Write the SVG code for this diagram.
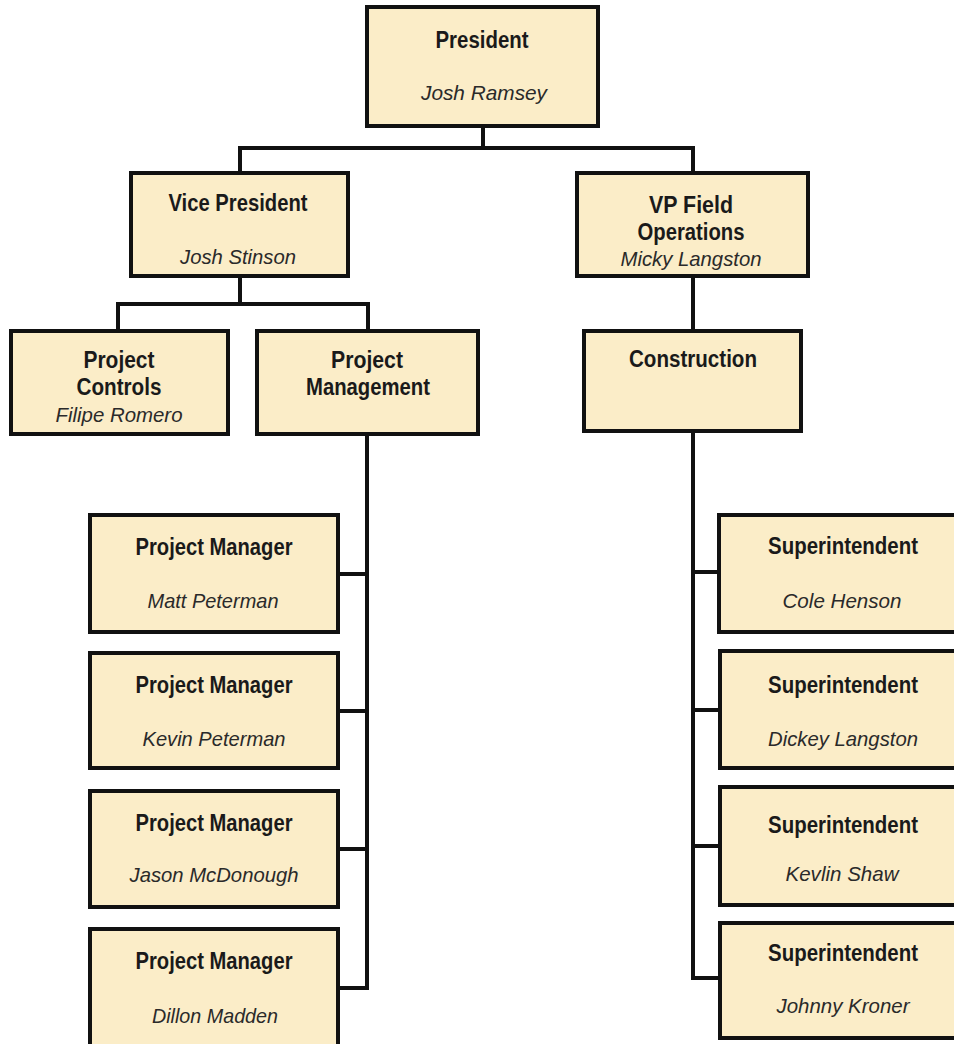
<svg xmlns="http://www.w3.org/2000/svg" width="954" height="1044" viewBox="0 0 954 1044">
<style>
.box{fill:#FBEDC8;stroke:#111;stroke-width:4}
.t{font-family:"Liberation Sans",Arial,sans-serif;font-weight:bold;font-size:23px;fill:#1a1a1a;text-anchor:middle}
.n{font-family:"Liberation Sans",Arial,sans-serif;font-style:italic;font-size:21px;fill:#2a2a2a;text-anchor:middle}
.c{fill:none;stroke:#111;stroke-width:4;stroke-linejoin:miter}
</style>
<rect width="954" height="1044" fill="#fff"/>
<g id="connectors">
<path class="c" d="M483 126V148M240 173V148H693V173"/>
<path class="c" d="M240 276V304M118 331V304H368V331"/>
<path class="c" d="M693 276V331"/>
<path class="c" d="M367 434V988H338M338 574H367M338 711H367M338 849H367"/>
<path class="c" d="M693 431V978H719M693 572H719M693 710H719M693 846H719"/>
</g>
<g id="president">
<rect class="box" x="367" y="7" width="231" height="119"/>
<text class="t" x="482" y="48" textLength="93" lengthAdjust="spacingAndGlyphs">President</text>
<text class="n" x="484" y="100" textLength="126" lengthAdjust="spacingAndGlyphs">Josh Ramsey</text>
</g>
<g id="vice-president">
<rect class="box" x="131" y="173" width="217" height="103"/>
<text class="t" x="238" y="211" textLength="139" lengthAdjust="spacingAndGlyphs">Vice President</text>
<text class="n" x="238" y="264" textLength="116" lengthAdjust="spacingAndGlyphs">Josh Stinson</text>
</g>
<g id="vp-field-operations">
<rect class="box" x="577" y="173" width="231" height="103"/>
<text class="t" x="691" y="213" textLength="84" lengthAdjust="spacingAndGlyphs">VP Field</text>
<text class="t" x="691" y="240" textLength="107" lengthAdjust="spacingAndGlyphs">Operations</text>
<text class="n" x="691" y="266" textLength="141" lengthAdjust="spacingAndGlyphs">Micky Langston</text>
</g>
<g id="project-controls">
<rect class="box" x="11" y="331" width="217" height="103"/>
<text class="t" x="119" y="368" textLength="71" lengthAdjust="spacingAndGlyphs">Project</text>
<text class="t" x="119" y="395" textLength="85" lengthAdjust="spacingAndGlyphs">Controls</text>
<text class="n" x="119" y="422" textLength="127" lengthAdjust="spacingAndGlyphs">Filipe Romero</text>
</g>
<g id="project-management">
<rect class="box" x="257" y="331" width="221" height="103"/>
<text class="t" x="367" y="368" textLength="72" lengthAdjust="spacingAndGlyphs">Project</text>
<text class="t" x="368" y="395" textLength="124" lengthAdjust="spacingAndGlyphs">Management</text>
</g>
<g id="construction">
<rect class="box" x="584" y="331" width="217" height="100"/>
<text class="t" x="693" y="367" textLength="128" lengthAdjust="spacingAndGlyphs">Construction</text>
</g>
<g id="pm-matt-peterman">
<rect class="box" x="90" y="515" width="248" height="117"/>
<text class="t" x="214" y="555" textLength="157" lengthAdjust="spacingAndGlyphs">Project Manager</text>
<text class="n" x="213" y="608" textLength="131" lengthAdjust="spacingAndGlyphs">Matt Peterman</text>
</g>
<g id="pm-kevin-peterman">
<rect class="box" x="90" y="653" width="248" height="115"/>
<text class="t" x="214" y="693" textLength="157" lengthAdjust="spacingAndGlyphs">Project Manager</text>
<text class="n" x="214" y="746" textLength="143" lengthAdjust="spacingAndGlyphs">Kevin Peterman</text>
</g>
<g id="pm-jason-mcdonough">
<rect class="box" x="90" y="791" width="248" height="116"/>
<text class="t" x="214" y="831" textLength="157" lengthAdjust="spacingAndGlyphs">Project Manager</text>
<text class="n" x="214" y="882" textLength="169" lengthAdjust="spacingAndGlyphs">Jason McDonough</text>
</g>
<g id="pm-dillon-madden">
<rect class="box" x="90" y="929" width="248" height="130"/>
<text class="t" x="214" y="969" textLength="157" lengthAdjust="spacingAndGlyphs">Project Manager</text>
<text class="n" x="215" y="1023" textLength="126" lengthAdjust="spacingAndGlyphs">Dillon Madden</text>
</g>
<g id="sup-cole-henson">
<rect class="box" x="719" y="515" width="260" height="117"/>
<text class="t" x="843" y="554" textLength="150" lengthAdjust="spacingAndGlyphs">Superintendent</text>
<text class="n" x="842" y="608" textLength="119" lengthAdjust="spacingAndGlyphs">Cole Henson</text>
</g>
<g id="sup-dickey-langston">
<rect class="box" x="720" y="651" width="260" height="117"/>
<text class="t" x="843" y="693" textLength="150" lengthAdjust="spacingAndGlyphs">Superintendent</text>
<text class="n" x="843" y="746" textLength="150" lengthAdjust="spacingAndGlyphs">Dickey Langston</text>
</g>
<g id="sup-kevlin-shaw">
<rect class="box" x="720" y="787" width="260" height="118"/>
<text class="t" x="843" y="833" textLength="150" lengthAdjust="spacingAndGlyphs">Superintendent</text>
<text class="n" x="842" y="881" textLength="113" lengthAdjust="spacingAndGlyphs">Kevlin Shaw</text>
</g>
<g id="sup-johnny-kroner">
<rect class="box" x="720" y="923" width="260" height="115"/>
<text class="t" x="843" y="961" textLength="150" lengthAdjust="spacingAndGlyphs">Superintendent</text>
<text class="n" x="843" y="1013" textLength="133" lengthAdjust="spacingAndGlyphs">Johnny Kroner</text>
</g>
</svg>
